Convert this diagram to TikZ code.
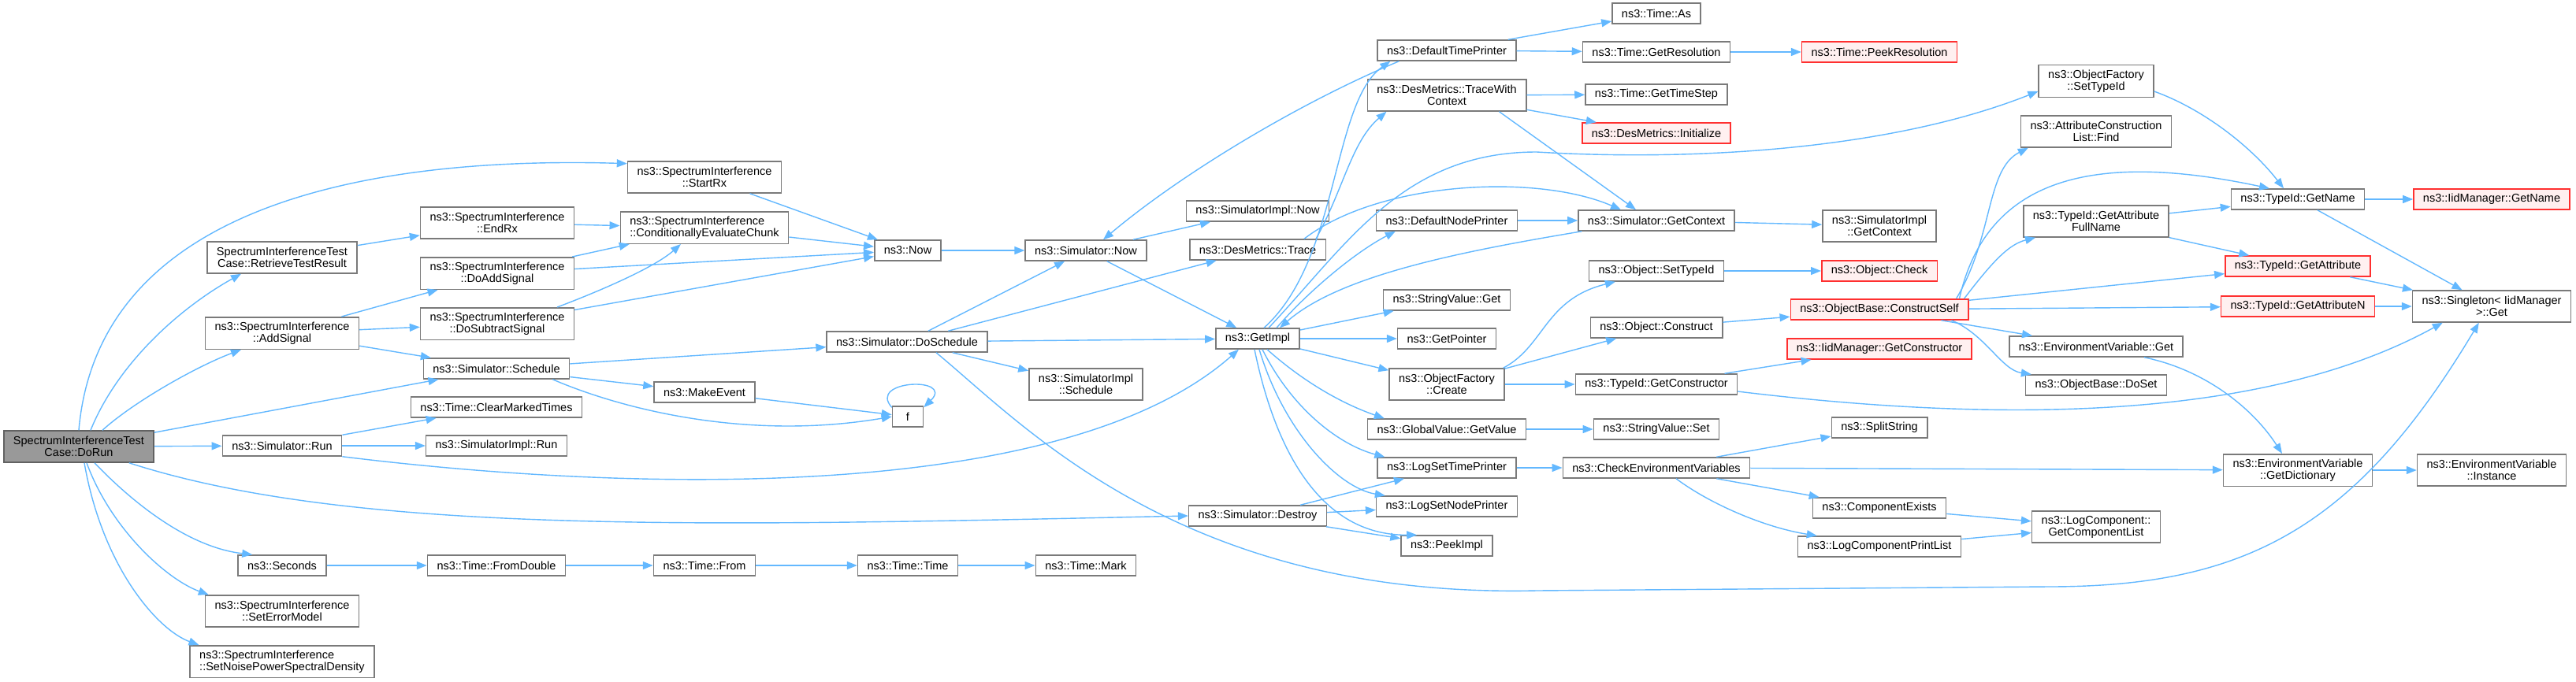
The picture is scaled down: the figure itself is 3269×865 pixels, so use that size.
\documentclass[tikz,border=0pt]{standalone}
\usepackage{fontspec}
\setmainfont{Liberation Sans}
\usepackage{tikz}
\usetikzlibrary{arrows.meta}
\definecolor{callblue}{HTML}{63B8FF}
\definecolor{boxline}{HTML}{7A7A7A}
\definecolor{rootfill}{HTML}{999999}
\definecolor{missline}{HTML}{FF3030}
\definecolor{missfill}{HTML}{FFF0F0}
\begin{document}
\begin{tikzpicture}[x=1pt,y=-1pt]
\tikzstyle{fn}=[draw=boxline,fill=white,line width=1.5pt,inner xsep=12pt,inner ysep=6pt,minimum height=26pt,align=center,font=\fontsize{14.5pt}{15pt}\selectfont]
\tikzstyle{two}=[minimum height=40pt]
\tikzstyle{root}=[fill=rootfill,draw=boxline!80!black]
\tikzstyle{missing}=[draw=missline,fill=missfill]
\tikzstyle{call}=[draw=callblue,line width=1.4pt,-{Triangle[length=13pt,width=10pt]}]
\useasboundingbox (0,0) rectangle (3269,865);
\node[fn,two,root] (dorun) at (100,567) {SpectrumInterferenceTest\\Case::DoRun};
\node[fn,two] (retrieve) at (358,327) {SpectrumInterferenceTest\\Case::RetrieveTestResult};
\node[fn,two] (addsig) at (358,423) {ns3::SpectrumInterference\\::AddSignal};
\node[fn] (simrun) at (358,566) {ns3::Simulator::Run};
\node[fn] (seconds) at (358,718) {ns3::Seconds};
\node[fn,two] (seterr) at (358,776) {ns3::SpectrumInterference\\::SetErrorModel};
\node[fn,two,align=left] (setnoise) at (358,840) {ns3::SpectrumInterference\\::SetNoisePowerSpectralDensity};
\node[fn,two] (endrx) at (631,283) {ns3::SpectrumInterference\\::EndRx};
\node[fn,two] (doadd) at (631,347) {ns3::SpectrumInterference\\::DoAddSignal};
\node[fn,two] (dosub) at (631,411) {ns3::SpectrumInterference\\::DoSubtractSignal};
\node[fn] (schedule) at (630,468) {ns3::Simulator::Schedule};
\node[fn] (clearmarked) at (630,517) {ns3::Time::ClearMarkedTimes};
\node[fn] (implrun) at (630,566) {ns3::SimulatorImpl::Run};
\node[fn] (fromdouble) at (630,718) {ns3::Time::FromDouble};
\node[fn,two] (startrx) at (894,225) {ns3::SpectrumInterference\\::StartRx};
\node[fn,two,align=left] (condeval) at (894,289) {ns3::SpectrumInterference\\::ConditionallyEvaluateChunk};
\node[fn] (makeevent) at (894,498) {ns3::MakeEvent};
\node[fn] (timefrom) at (894,718) {ns3::Time::From};
\node[fn] (now) at (1152,318) {ns3::Now};
\node[fn] (doschedule) at (1151,434) {ns3::Simulator::DoSchedule};
\node[fn,minimum width=39pt] (f) at (1152,529) {f};
\node[fn] (timetime) at (1152,718) {ns3::Time::Time};
\node[fn] (simnow) at (1378,318) {ns3::Simulator::Now};
\node[fn,two] (implschedule) at (1378,488) {ns3::SimulatorImpl\\::Schedule};
\node[fn] (timemark) at (1378,718) {ns3::Time::Mark};
\node[fn] (implnow) at (1596,268) {ns3::SimulatorImpl::Now};
\node[fn] (trace) at (1596,317) {ns3::DesMetrics::Trace};
\node[fn] (getimpl) at (1596,430) {ns3::GetImpl};
\node[fn] (destroy) at (1596,655) {ns3::Simulator::Destroy};
\node[fn] (deftime) at (1836,64) {ns3::DefaultTimePrinter};
\node[fn,two] (tracectx) at (1836,121) {ns3::DesMetrics::TraceWith\\Context};
\node[fn] (defnode) at (1836,280) {ns3::DefaultNodePrinter};
\node[fn] (strget) at (1836,381) {ns3::StringValue::Get};
\node[fn] (getpointer) at (1836,430) {ns3::GetPointer};
\node[fn,two] (create) at (1836,488) {ns3::ObjectFactory\\::Create};
\node[fn] (getvalue) at (1836,545) {ns3::GlobalValue::GetValue};
\node[fn] (logtime) at (1836,594) {ns3::LogSetTimePrinter};
\node[fn] (lognode) at (1836,643) {ns3::LogSetNodePrinter};
\node[fn] (peekimpl) at (1836,693) {ns3::PeekImpl};
\node[fn] (timeas) at (2102,17) {ns3::Time::As};
\node[fn] (getres) at (2102,66) {ns3::Time::GetResolution};
\node[fn] (timestep) at (2102,120) {ns3::Time::GetTimeStep};
\node[fn,missing] (initialize) at (2102,169) {ns3::DesMetrics::Initialize};
\node[fn] (getcontext) at (2102,280) {ns3::Simulator::GetContext};
\node[fn] (objsettype) at (2102,344) {ns3::Object::SetTypeId};
\node[fn] (construct) at (2102,416) {ns3::Object::Construct};
\node[fn] (tidgetctor) at (2102,488) {ns3::TypeId::GetConstructor};
\node[fn] (strset) at (2102,545) {ns3::StringValue::Set};
\node[fn] (checkenv) at (2102,594) {ns3::CheckEnvironmentVariables};
\node[fn,missing] (peekres) at (2385,66) {ns3::Time::PeekResolution};
\node[fn,two] (implctx) at (2385,287) {ns3::SimulatorImpl\\::GetContext};
\node[fn,missing] (check) at (2385,344) {ns3::Object::Check};
\node[fn,missing] (constructself) at (2385,393) {ns3::ObjectBase::ConstructSelf};
\node[fn,missing] (iidgetctor) at (2385,443) {ns3::IidManager::GetConstructor};
\node[fn] (splitstring) at (2385,543) {ns3::SplitString};
\node[fn] (compexists) at (2385,645) {ns3::ComponentExists};
\node[fn] (printlist) at (2385,694) {ns3::LogComponentPrintList};
\node[fn,two] (factsettype) at (2660,103) {ns3::ObjectFactory\\::SetTypeId};
\node[fn,two] (attrfind) at (2660,167) {ns3::AttributeConstruction\\List::Find};
\node[fn,two] (fullname) at (2660,281) {ns3::TypeId::GetAttribute\\FullName};
\node[fn] (envget) at (2660,440) {ns3::EnvironmentVariable::Get};
\node[fn] (doset) at (2660,489) {ns3::ObjectBase::DoSet};
\node[fn,two] (complist) at (2660,669) {ns3::LogComponent::\\GetComponentList};
\node[fn] (tidname) at (2916,253) {ns3::TypeId::GetName};
\node[fn,missing] (tidattr) at (2916,338) {ns3::TypeId::GetAttribute};
\node[fn,missing] (tidattrn) at (2916,389) {ns3::TypeId::GetAttributeN};
\node[fn,two] (getdict) at (2916,597) {ns3::EnvironmentVariable\\::GetDictionary};
\node[fn,missing] (iidname) at (3162,253) {ns3::IidManager::GetName};
\node[fn,two] (singleton) at (3162,389) {ns3::Singleton< IidManager\\>::Get};
\node[fn,two] (instance) at (3162,597) {ns3::EnvironmentVariable\\::Instance};
\draw[call] (dorun.north) .. controls (126,248) and (498,199) .. (startrx.170);
\draw[call] ([xshift=15pt]dorun.north) .. controls (150,460) and (230,390) .. ([xshift=-52pt]retrieve.south);
\draw[call] ([xshift=30pt]dorun.north) .. controls (170,510) and (250,465) .. ([xshift=-52pt]addsig.south);
\draw[call] (dorun) -- (schedule);
\draw[call] (dorun) -- (simrun);
\draw[call] ([xshift=-32pt]dorun.south east) .. controls (450,680) and (900,668) .. (destroy.west);
\draw[call] ([xshift=20pt]dorun.south) .. controls (170,640) and (240,695) .. (seconds.160);
\draw[call] ([xshift=10pt]dorun.south) .. controls (140,670) and (210,735) .. ([xshift=5pt]seterr.north west);
\draw[call] ([xshift=7pt]dorun.south) .. controls (130,720) and (200,800) .. ([xshift=12pt]setnoise.north west);
\draw[call] (retrieve) -- (endrx);
\draw[call] (addsig) -- (doadd);
\draw[call] (addsig) -- (dosub);
\draw[call] (addsig) -- (schedule);
\draw[call] (simrun) -- (clearmarked);
\draw[call] (simrun) -- (implrun);
\draw[call] (simrun.south east) .. controls (800,625) and (1350,640) .. ([xshift=-24pt]getimpl.south);
\draw[call] (seconds) -- (fromdouble);
\draw[call] (endrx) -- (condeval);
\draw[call] (doadd) -- (condeval);
\draw[call] (doadd) -- (now);
\draw[call] ([xshift=-22pt]dosub.north east) .. controls (760,370) and (830,340) .. ([xshift=-30pt]condeval.south);
\draw[call] (dosub) -- (now);
\draw[call] (schedule) -- (doschedule);
\draw[call] (schedule) -- (makeevent);
\draw[call] ([xshift=-22pt]schedule.south east) .. controls (790,520) and (950,560) .. (f.west);
\draw[call] (fromdouble) -- (timefrom);
\draw[call] (startrx) -- (now);
\draw[call] (condeval) -- (now);
\draw[call] (makeevent) -- (f);
\draw[call] (f.150) .. controls (1100,482) and (1212,478) .. (f.30);
\draw[call] (timefrom) -- (timetime);
\draw[call] (now) -- (simnow);
\draw[call] (doschedule) -- (simnow);
\draw[call] (doschedule) -- (trace);
\draw[call] (doschedule) -- (getimpl);
\draw[call] (doschedule) -- (implschedule);
\draw[call] ([xshift=37pt]doschedule.south) .. controls (1300,540) and (1500,760) .. (1950,750) -- (2600,745) .. controls (2850,745) and (2990,670) .. ([xshift=85pt]singleton.south west);
\draw[call] (timetime) -- (timemark);
\draw[call] (simnow) -- (implnow);
\draw[call] (simnow) -- (getimpl);
\draw[call] ([xshift=28pt]deftime.south west) .. controls (1650,130) and (1500,220) .. ([xshift=22pt]simnow.north);
\draw[call] ([xshift=74pt]trace.north) .. controls (1705,240) and (1715,180) .. ([xshift=25pt]tracectx.south west);
\draw[call] ([xshift=59pt]trace.north) .. controls (1750,230) and (1950,220) .. ([xshift=-45pt]getcontext.north);
\draw[call] ([xshift=8pt]getimpl.north) .. controls (1700,330) and (1690,130) .. ([xshift=17pt]deftime.south west);
\draw[call] ([xshift=14pt]getimpl.north) .. controls (1710,310) and (1780,193) .. (1950,193) .. controls (2150,205) and (2400,190) .. (factsettype.190);
\draw[call] ([xshift=24pt]getimpl.north) .. controls (1660,370) and (1720,320) .. ([xshift=25pt]defnode.south west);
\draw[call] (getimpl) -- (strget);
\draw[call] (getimpl) -- (getpointer);
\draw[call] (getimpl) -- (create);
\draw[call] ([xshift=12pt]getimpl.south) .. controls (1660,490) and (1710,515) .. ([xshift=22pt]getvalue.north west);
\draw[call] ([xshift=6pt]getimpl.south) .. controls (1640,520) and (1700,565) .. ([xshift=10pt]logtime.north west);
\draw[call] ([xshift=2pt]getimpl.south) .. controls (1630,550) and (1700,620) .. ([xshift=12pt]lognode.north west);
\draw[call] ([xshift=-4pt]getimpl.south) .. controls (1620,580) and (1680,680) .. (peekimpl.160);
\draw[call] (destroy) -- (logtime);
\draw[call] (destroy) -- (lognode);
\draw[call] (destroy) -- (peekimpl);
\draw[call] (deftime) -- (timeas);
\draw[call] (deftime) -- (getres);
\draw[call] (tracectx) -- (timestep);
\draw[call] (tracectx) -- (initialize);
\draw[call] ([xshift=-35pt]tracectx.south east) -- ([xshift=-26pt]getcontext.north);
\draw[call] (defnode) -- (getcontext);
\draw[call] ([xshift=5pt]getcontext.south west) .. controls (1850,320) and (1700,350) .. ([xshift=28pt]getimpl.north);
\draw[call] ([xshift=-2pt]create.north east) .. controls (1960,440) and (1960,380) .. ([xshift=34pt]objsettype.south west);
\draw[call] (create) -- (construct);
\draw[call] (create) -- (tidgetctor);
\draw[call] (getvalue) -- (strset);
\draw[call] (logtime) -- (checkenv);
\draw[call] (getres) -- (peekres);
\draw[call] (getcontext) -- (implctx);
\draw[call] (objsettype) -- (check);
\draw[call] (construct) -- (constructself);
\draw[call] (tidgetctor) -- (iidgetctor);
\draw[call] (tidgetctor.-5) .. controls (2600,545) and (2900,520) .. ([xshift=39pt]singleton.south west);
\draw[call] (checkenv) -- (splitstring);
\draw[call] (checkenv) -- (compexists);
\draw[call] ([xshift=25pt]checkenv.south) .. controls (2170,640) and (2240,670) .. ([xshift=25pt]printlist.north west);
\draw[call] (checkenv) -- (getdict);
\draw[call] ([xshift=-16pt]constructself.north east) .. controls (2530,300) and (2520,215) .. ([xshift=10pt]attrfind.south west);
\draw[call] ([xshift=-6pt]constructself.north east) .. controls (2530,330) and (2550,310) .. ([xshift=16pt]fullname.south west);
\draw[call] ([xshift=-12pt]constructself.north east) .. controls (2520,230) and (2650,190) .. ([xshift=-36pt]tidname.north);
\draw[call] (constructself) -- (tidattr);
\draw[call] (constructself) -- (tidattrn);
\draw[call] ([xshift=-35pt]constructself.south east) -- ([xshift=30pt]envget.north west);
\draw[call] ([xshift=-22pt]constructself.south east) .. controls (2520,425) and (2540,470) .. ([xshift=8pt]doset.north west);
\draw[call] (compexists) -- (complist);
\draw[call] (printlist) -- (complist);
\draw[call] (factsettype.-10) .. controls (2800,140) and (2860,190) .. ([xshift=-18pt]tidname.north);
\draw[call] (fullname) -- (tidname);
\draw[call] (fullname) -- (tidattr);
\draw[call] ([xshift=-50pt]envget.south east) .. controls (2800,470) and (2860,520) .. ([xshift=-20pt]getdict.north);
\draw[call] (tidname) -- (iidname);
\draw[call] (tidname) -- (singleton);
\draw[call] (tidattr) -- (singleton);
\draw[call] (tidattrn) -- (singleton);
\draw[call] (getdict) -- (instance);
\end{tikzpicture}
\end{document}
